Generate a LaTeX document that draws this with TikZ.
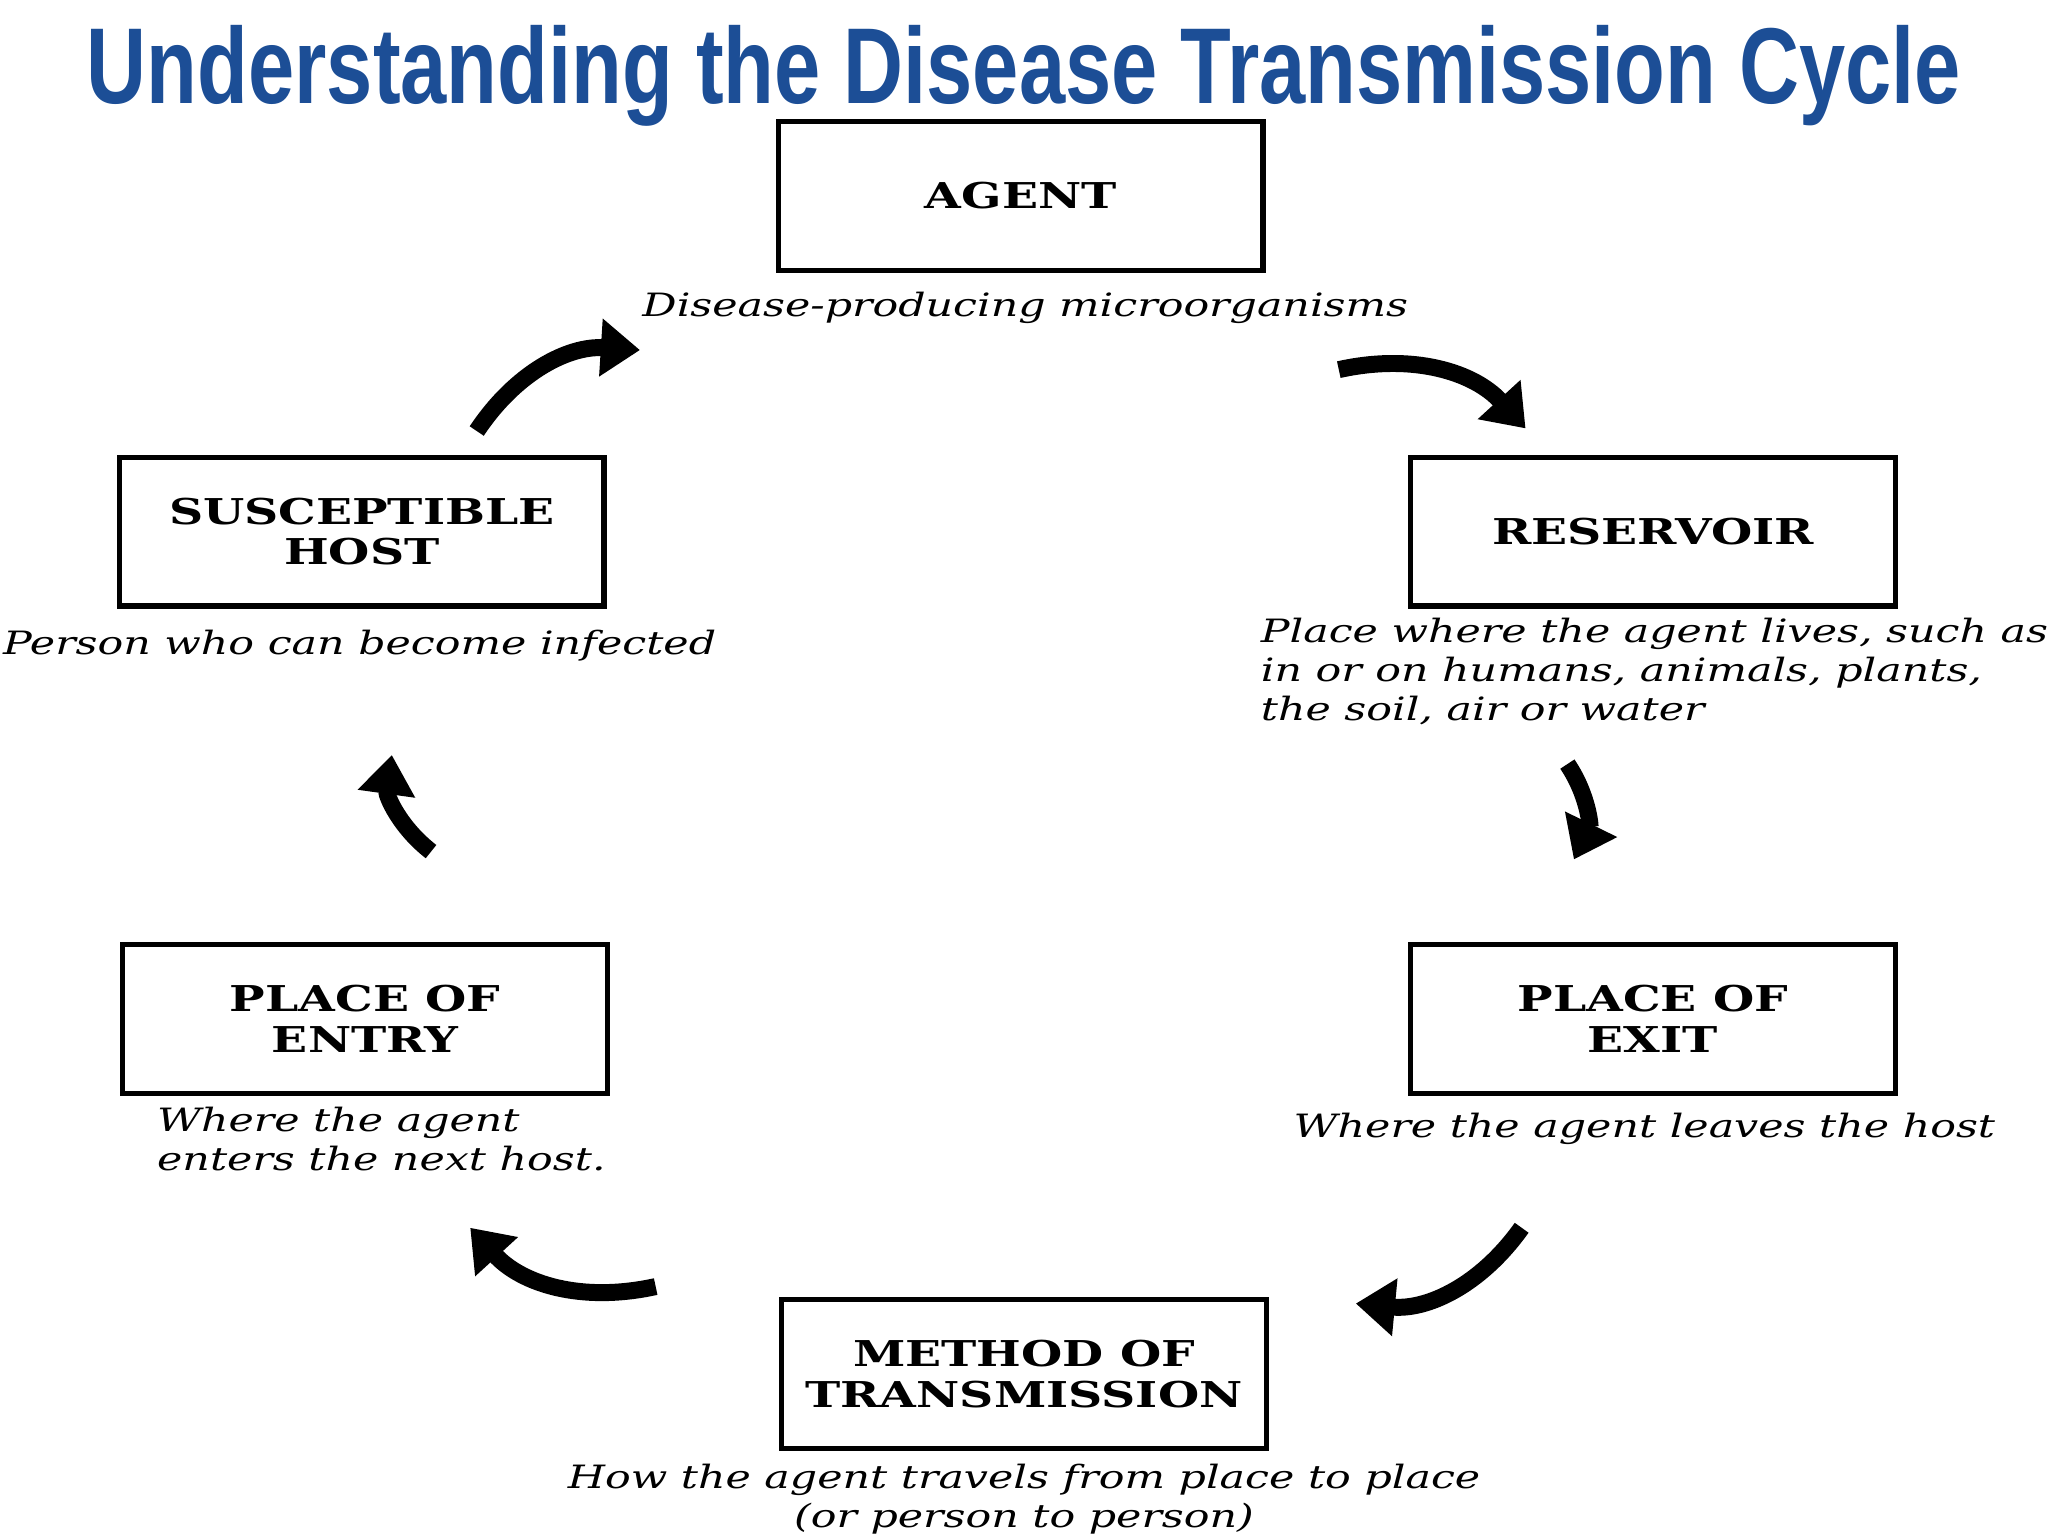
\documentclass[tikz,border=0pt]{standalone}
\usepackage{fontspec}
\usepackage{tikz}
\usetikzlibrary{arrows.meta}
\setmainfont{DejaVu Serif}[FakeStretch=1.33]
\newfontfamily\titlefont{Liberation Sans}
\definecolor{titleblue}{RGB}{28,78,150}
\tikzset{
  stage/.style={draw, line width=2.3pt, minimum width=7.42cm, minimum height=2.28cm,
    align=center, font=\fontsize{15.5}{17.5}\selectfont\bfseries},
  note/.style={font=\fontsize{14}{17}\selectfont\itshape, inner sep=0pt},
  cyc/.style={line width=0.26cm, -{Triangle[length=0.6cm,width=0.85cm]}, bend left=30}
}
\begin{document}
\begin{tikzpicture}
        \useasboundingbox (0,0) rectangle (31.36,-23.52);

        % Title
        \node[font=\titlefont\bfseries\fontsize{47}{50}\selectfont, text=titleblue] (title) at (15.68,-1.16) {\scalebox{0.77}[1]{Understanding the Disease Transmission Cycle}};

        % Stages
        \node[stage] (agent) at (15.63,-3.0) {AGENT};
        \node[stage] (reservoir) at (25.31,-8.14) {RESERVOIR};
        \node[stage] (exit) at (25.31,-15.6) {PLACE OF\\EXIT};
        \node[stage] (method) at (15.68,-21.04) {METHOD OF\\TRANSMISSION};
        \node[stage] (entry) at (5.59,-15.6) {PLACE OF\\ENTRY};
        \node[stage] (host) at (5.54,-8.14) {SUSCEPTIBLE\\HOST};

        % Descriptions
        \node[note] (agentnote) at (15.7,-4.72) {Disease-producing microorganisms};
        \node[note, align=left, anchor=north west] (resnote) at (19.3,-9.45) {Place where the agent lives, such as\\in or on humans, animals, plants,\\the soil, air or water};
        \node[note] (exitnote) at (25.18,-17.28) {Where the agent leaves the host};
        \node[note, align=center] (methodnote) at (15.68,-22.95) {How the agent travels from place to place\\(or person to person)};
        \node[note, align=left, anchor=north west] (entrynote) at (2.4,-16.95) {Where the agent\\enters the next host.};
        \node[note, anchor=west] (hostnote) at (0.04,-9.88) {Person who can become infected};

        % Arrow ends
        \coordinate (a1) at (20.5,-5.66);   \coordinate (b1) at (23.36,-6.56);
        \coordinate (a2) at (24.0,-11.7);   \coordinate (b2) at (24.1,-13.16);
        \coordinate (a3) at (23.3,-18.8);   \coordinate (b3) at (20.76,-19.96);
        \coordinate (a4) at (10.04,-19.7);  \coordinate (b4) at (7.2,-18.8);
        \coordinate (a5) at (6.6,-13.04);   \coordinate (b5) at (6.0,-11.56);
        \coordinate (a6) at (7.3,-6.6);     \coordinate (b6) at (9.8,-5.36);

        % Cycle arrows
        \foreach \i in {1,...,6} {
                \draw[cyc] (a\i) to (b\i);
                }
\end{tikzpicture}
\end{document}
